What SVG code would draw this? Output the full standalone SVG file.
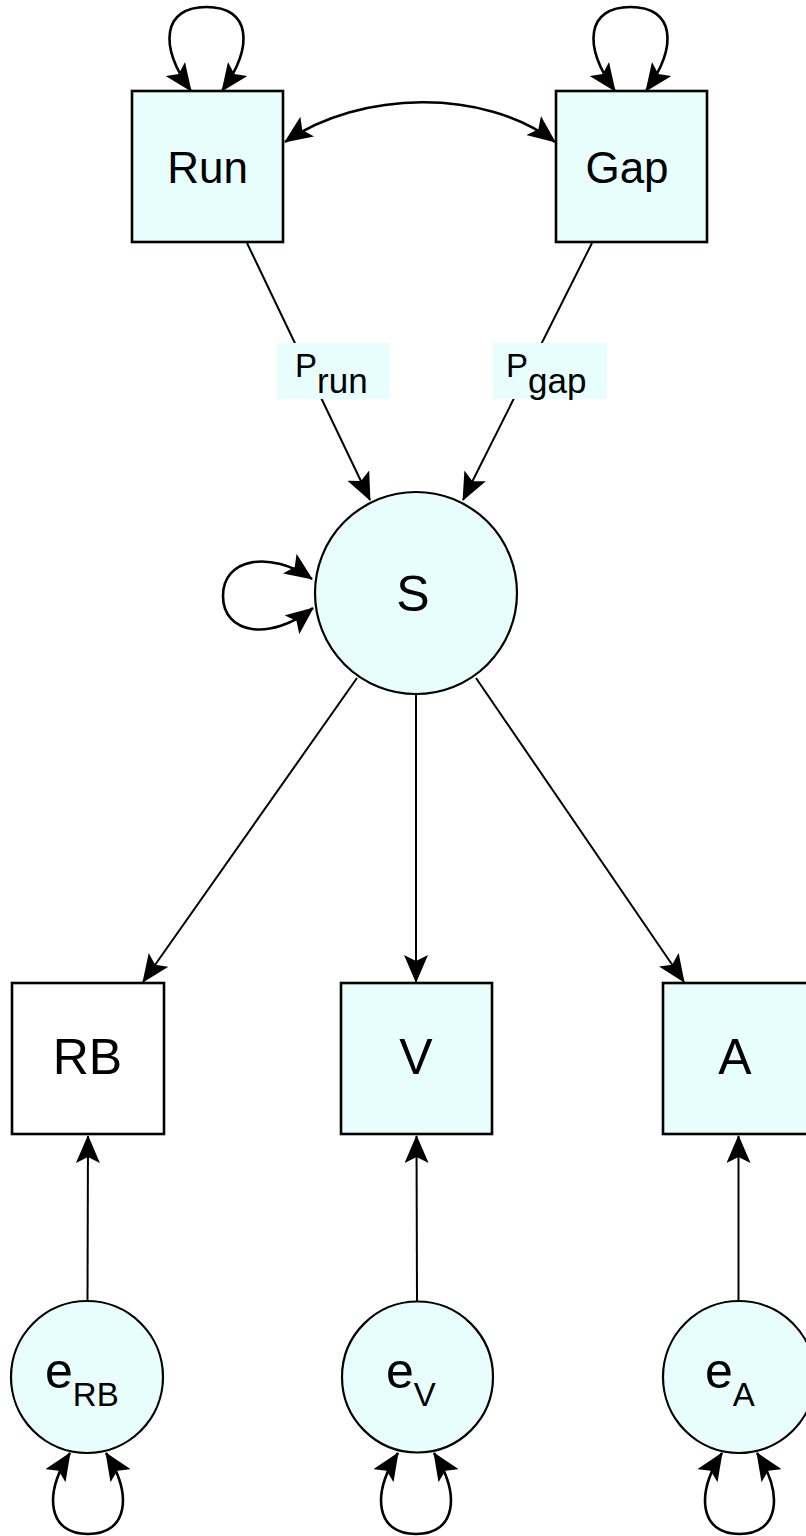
<svg xmlns="http://www.w3.org/2000/svg" width="806" height="1536" viewBox="0 0 806 1536">
  <style>
    .box { fill: #e8fefd; stroke: #000; stroke-width: 2.6; }
    .box.plain { fill: #fff; }
    .circ { fill: #e8fefd; stroke: #000; stroke-width: 2.2; }
    .lbl { font-family: "Liberation Sans", Arial, sans-serif; fill: #000; text-anchor: middle; }
    .etxt { font-family: "Liberation Sans", Arial, sans-serif; fill: #000; font-size: 50px; }
    .edge { fill: none; stroke: #000; stroke-width: 2; marker-end: url(#arrow); }
    .both { fill: none; stroke: #000; stroke-width: 2.6; marker-start: url(#arrow); marker-end: url(#arrow); }
    .tag { fill: #e8fefd; stroke: none; }
    .ptxt { font-family: "Liberation Sans", Arial, sans-serif; fill: #000; font-size: 33px; }
  </style>
  <defs>
    <marker id="arrow" viewBox="0 0 28 24" refX="27" refY="12" markerWidth="28" markerHeight="24"
            markerUnits="userSpaceOnUse" orient="auto-start-reverse">
      <path d="M0,0 L28,12 L0,24 L6,12 z" fill="#000"/>
    </marker>
  </defs>

  <!-- nodes -->
  <g id="node-run">
    <rect class="box" x="132" y="91" width="151" height="151"/>
    <text class="lbl" x="207.5" y="183" font-size="44">Run</text>
  </g>
  <g id="node-gap">
    <rect class="box" x="556" y="91" width="151" height="151"/>
    <text class="lbl" x="627" y="182.5" font-size="44">Gap</text>
  </g>
  <g id="node-s">
    <circle class="circ" cx="416" cy="593" r="101"/>
    <text class="lbl" x="413" y="611" font-size="50">S</text>
  </g>
  <g id="node-rb">
    <rect class="box plain" x="12" y="983" width="152" height="151"/>
    <text class="lbl" x="87.5" y="1074" font-size="50">RB</text>
  </g>
  <g id="node-v">
    <rect class="box" x="341" y="983" width="151" height="151"/>
    <text class="lbl" x="416" y="1074" font-size="50">V</text>
  </g>
  <g id="node-a">
    <rect class="box" x="663" y="983" width="151" height="151"/>
    <text class="lbl" x="735" y="1074" font-size="50">A</text>
  </g>
  <g id="node-erb">
    <circle class="circ" cx="87" cy="1377" r="76"/>
    <text class="etxt" x="45" y="1388">e<tspan font-size="33" dy="18">RB</tspan></text>
  </g>
  <g id="node-ev">
    <circle class="circ" cx="417.5" cy="1377" r="75.5"/>
    <text class="etxt" x="386" y="1388">e<tspan font-size="33" dy="18">V</tspan></text>
  </g>
  <g id="node-ea">
    <circle class="circ" cx="739" cy="1377" r="76"/>
    <text class="etxt" x="705" y="1388">e<tspan font-size="33" dy="18">A</tspan></text>
  </g>

  <!-- connectors -->
  <g id="connectors">
    <!-- variances (self loops) -->
    <path class="both" d="M191,91 C158,45 163,7 206.5,7 C250,7 255,45 222,91"/>
    <path class="both" d="M615,91 C582,45 587,7 630.5,7 C674,7 679,45 646,91"/>
    <path class="both" d="M312,579 C270,550 223,558 223,596 C223,634 270,642 313,608"/>
    <path class="both" d="M70,1453 C43,1495 48,1534 88,1534 C128,1534 133,1495 106,1453"/>
    <path class="both" d="M398,1453 C371,1495 376,1534 416,1534 C456,1534 461,1495 434,1453"/>
    <path class="both" d="M722,1453 C695,1495 700,1534 739.5,1534 C779,1534 784,1495 757,1453"/>
    <!-- covariance Run <-> Gap -->
    <path class="both" d="M285,142 C360,90 485,88 555,142"/>
    <!-- paths into S -->
    <path class="edge" d="M247,243 L370,500"/>
    <path class="edge" d="M592,243 L463,500"/>
    <!-- loadings -->
    <path class="edge" d="M357,678 L143,982"/>
    <path class="edge" d="M416,695 L416,982"/>
    <path class="edge" d="M476,678 L684,982"/>
    <!-- residuals -->
    <path class="edge" d="M87.5,1301 L88,1136"/>
    <path class="edge" d="M417,1301 L416.5,1136"/>
    <path class="edge" d="M738.5,1301 L738.5,1136"/>
    <!-- path labels -->
    <g id="label-prun">
      <rect class="tag" x="277" y="343" width="113" height="56"/>
      <text class="ptxt" x="295" y="377">P<tspan font-size="35" dy="16">run</tspan></text>
    </g>
    <g id="label-pgap">
      <rect class="tag" x="493" y="343" width="114" height="56"/>
      <text class="ptxt" x="506" y="377">P<tspan font-size="35" dy="16">gap</tspan></text>
    </g>
  </g>
</svg>
